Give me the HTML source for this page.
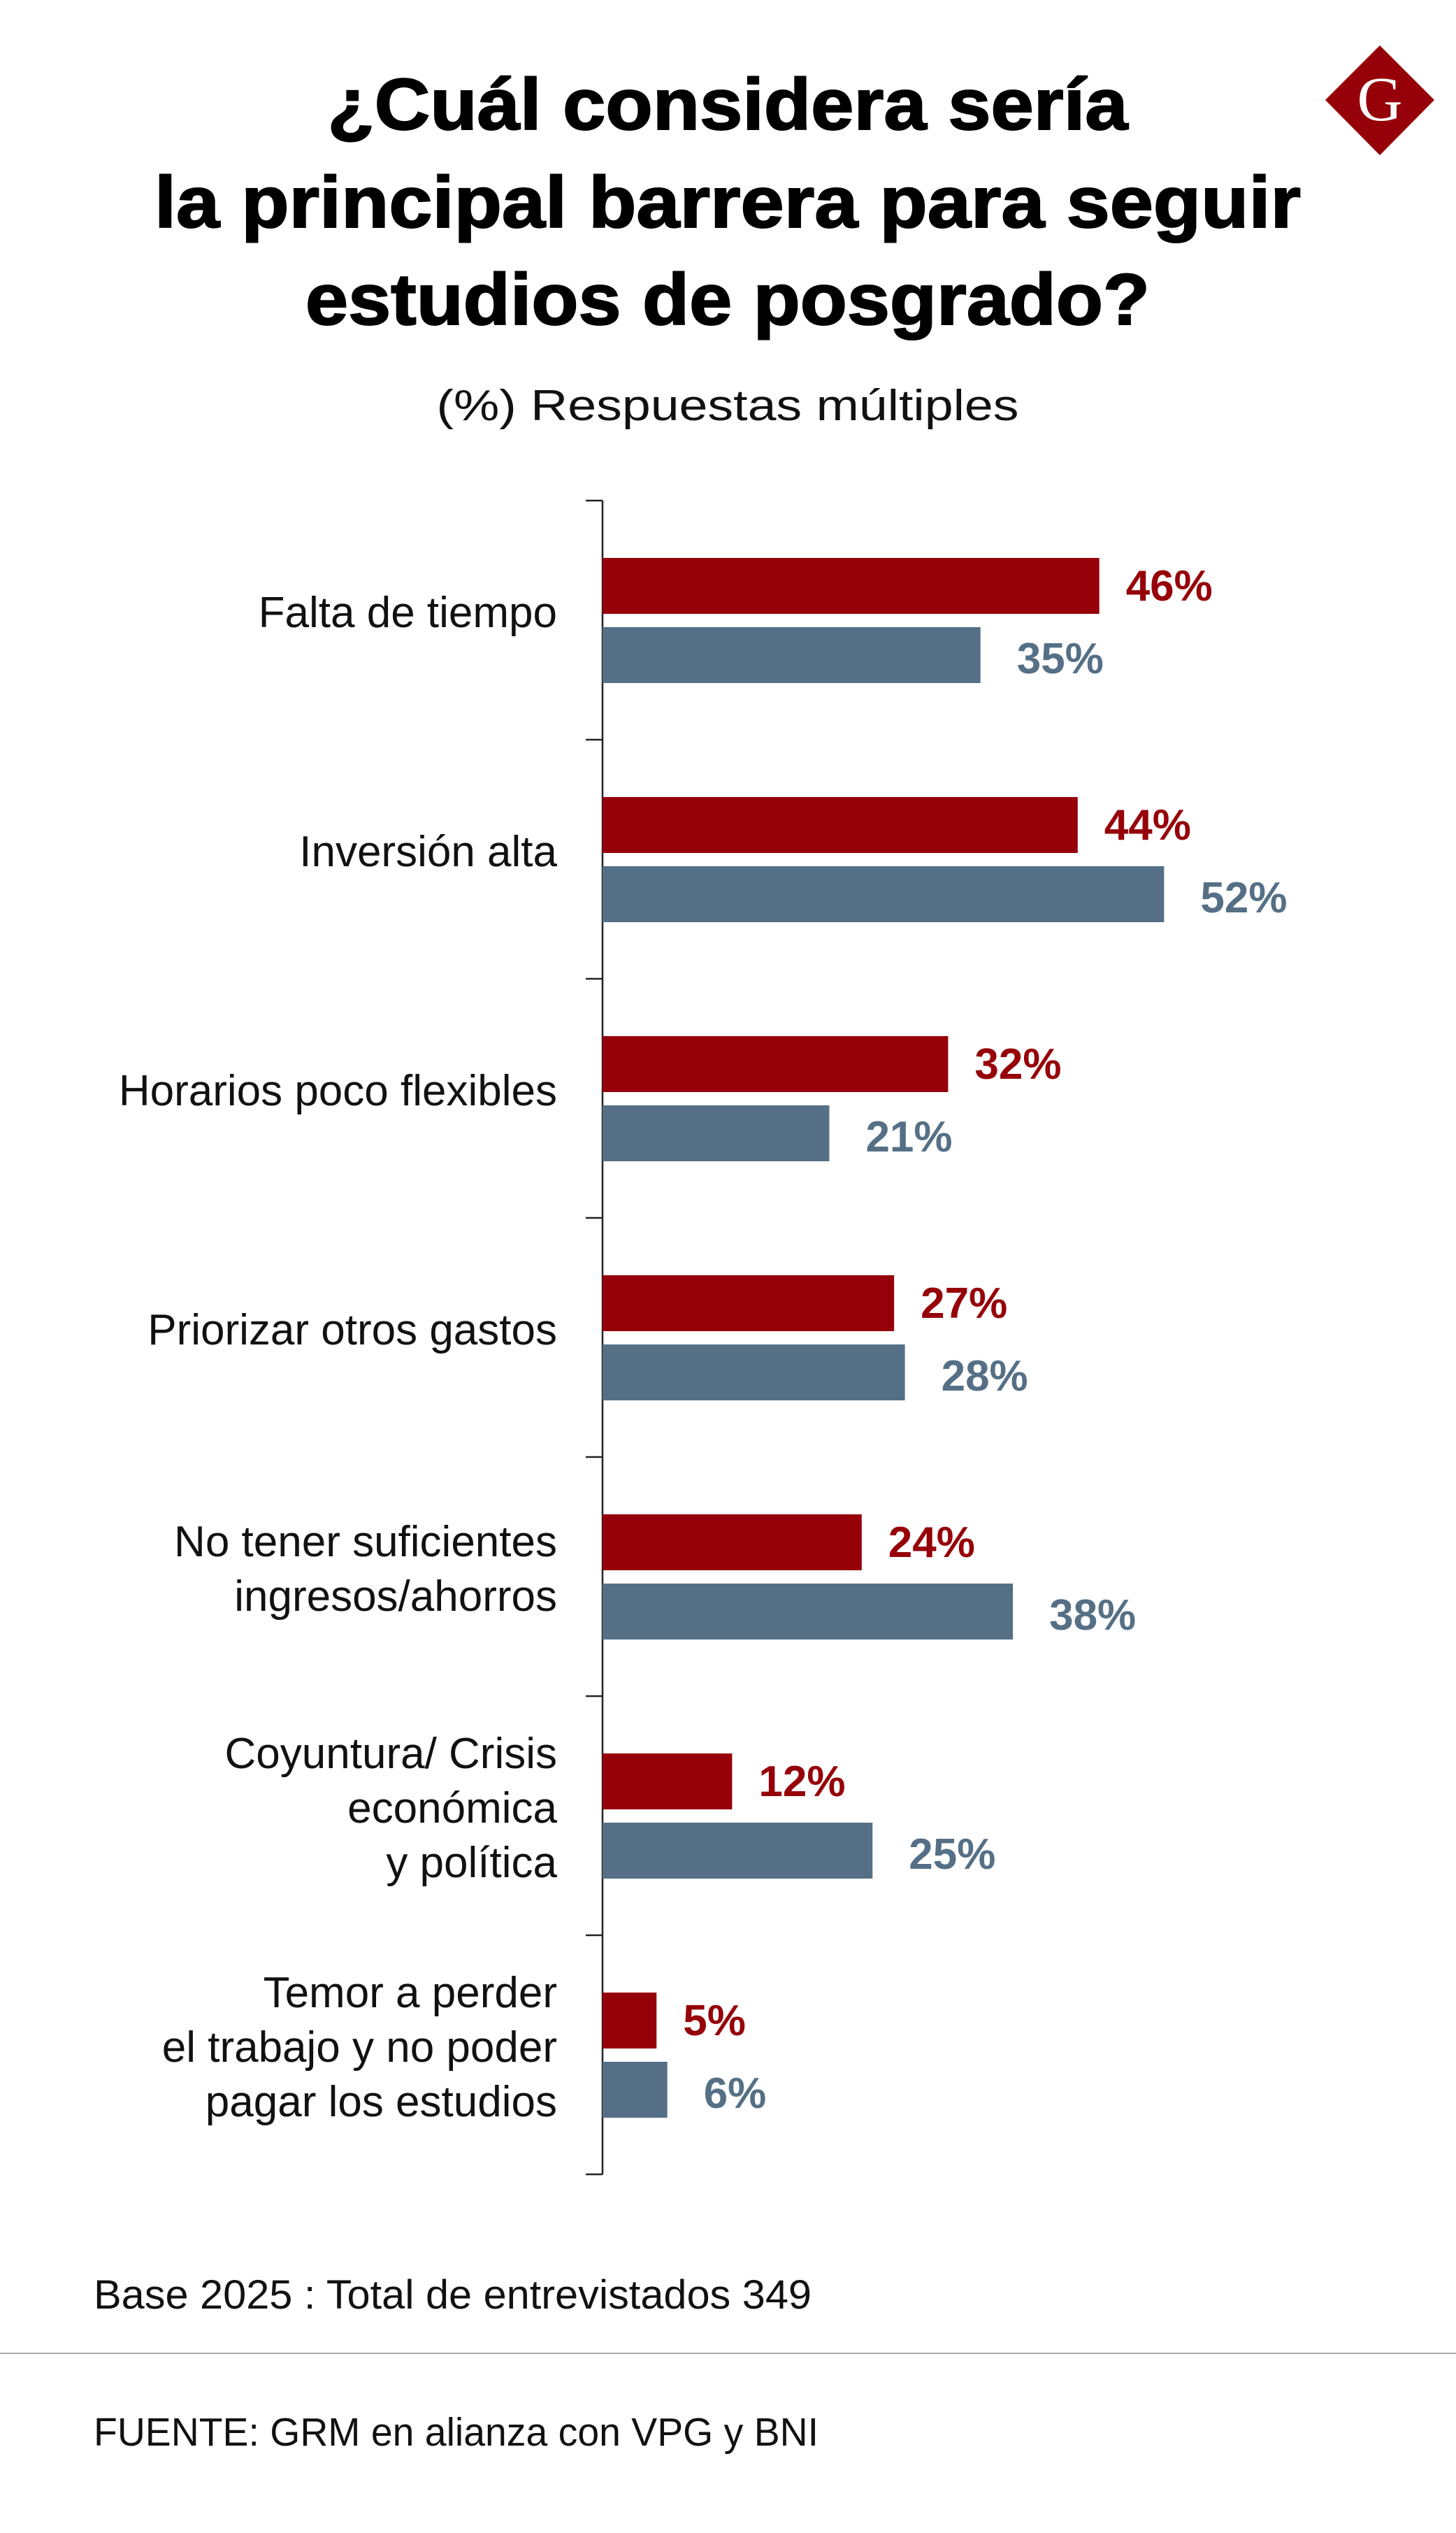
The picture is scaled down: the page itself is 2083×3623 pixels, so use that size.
<!DOCTYPE html>
<html><head><meta charset="utf-8"><style>
html,body{margin:0;padding:0;background:#fff;}
svg{display:block;}
</style></head><body>
<svg id="chart" width="2083" height="3623" viewBox="0 0 2083 3623" xmlns="http://www.w3.org/2000/svg" font-family="'Liberation Sans', sans-serif">
<rect x="0" y="0" width="2083" height="3623" fill="#fff"/>
<g font-weight="bold" font-size="104" fill="#000" text-anchor="middle" stroke="#000" stroke-width="2">
<text x="1041" y="185" textLength="1145" lengthAdjust="spacingAndGlyphs">¿Cuál considera sería</text>
<text x="1041" y="325" textLength="1640" lengthAdjust="spacingAndGlyphs">la principal barrera para seguir</text>
<text x="1041" y="464" textLength="1208" lengthAdjust="spacingAndGlyphs">estudios de posgrado?</text>
</g>
<text x="1041" y="601" text-anchor="middle" font-size="62" textLength="833" lengthAdjust="spacingAndGlyphs" fill="#111">(%) Respuestas múltiples</text>
<g>
<polygon points="1974,65 2052,143 1974,222 1896,143" fill="#960009"/>
<text x="1974" y="172" text-anchor="middle" font-family="'Liberation Serif', serif" font-size="90" fill="#fff">G</text>
</g>
<g id="plot"></g>
<text x="134" y="3302" font-size="58" textLength="1027" lengthAdjust="spacingAndGlyphs" fill="#111">Base 2025 : Total de entrevistados 349</text>
<line x1="0" y1="3366" x2="2083" y2="3366" stroke="#aaa" stroke-width="2"/>
<text x="134" y="3498" font-size="57" textLength="1037" lengthAdjust="spacingAndGlyphs" fill="#111">FUENTE: GRM en alianza con VPG y BNI</text>
</svg>
<script>
const categories = [
  ["Falta de tiempo"],
  ["Inversión alta"],
  ["Horarios poco flexibles"],
  ["Priorizar otros gastos"],
  ["No tener suficientes","ingresos/ahorros"],
  ["Coyuntura/ Crisis","económica","y política"],
  ["Temor a perder","el trabajo y no poder","pagar los estudios"]
];
const seriesRed = [46, 44, 32, 27, 24, 12, 5];
const seriesBlue = [35, 52, 21, 28, 38, 25, 6];
const valueLabelsRed = ["46%","44%","32%","27%","24%","12%","5%"];
const valueLabelsBlue = ["35%","52%","21%","28%","38%","25%","6%"];

const NS = "http://www.w3.org/2000/svg";
const plot = document.getElementById('plot');
const axisX = 862, axisTop = 716, axisBottom = 3110;
const bandH = (axisBottom - axisTop) / categories.length;
function xScale(v){ return axisX + v * 15.45; }
function bandY(i){ return axisTop + i * bandH; }
function mk(tag, attrs){ const e = document.createElementNS(NS, tag); for (const k in attrs) e.setAttribute(k, attrs[k]); plot.appendChild(e); return e; }

const axis = mk('line', {x1:axisX, y1:axisTop, x2:axisX, y2:axisBottom, stroke:'#222', 'stroke-width':2.5});


for (let i = 0; i <= categories.length; i++) {
  const t = mk('line', {x1:axisX-24, y1:bandY(i), x2:axisX, y2:bandY(i), stroke:'#222', 'stroke-width':2.5});
  
  
}
categories.forEach((lines, i) => {
  const top = bandY(i);
  const mid = top + bandH / 2;
  const lh = 78;
  lines.forEach((ln, j) => {
    const y = mid - (lines.length - 1) * lh / 2 + j * lh + 20 - 10;
    const t = mk('text', {x:797, y:y, 'text-anchor':'end', 'font-size':62, fill:'#111'});
    t.textContent = ln;
    
    
  });
  const ry = top + 82, by = top + 181, h = 80;
  const r = mk('rect', {x:axisX, y:ry, width:xScale(seriesRed[i]) - axisX, height:h, fill:'#960009'});
  
  
  const b = mk('rect', {x:axisX, y:by, width:xScale(seriesBlue[i]) - axisX, height:h, fill:'#557086'});
  
  
  const rl = mk('text', {x:xScale(seriesRed[i]) + 38, y:ry + h/2 + 21, 'font-size':62, 'font-weight':'bold', fill:'#960009'});
  rl.textContent = valueLabelsRed[i];
  
  
  const bl = mk('text', {x:xScale(seriesBlue[i]) + 52, y:by + h/2 + 26, 'font-size':62, 'font-weight':'bold', fill:'#557086'});
  bl.textContent = valueLabelsBlue[i];
  
  
});
</script>
</body></html>
